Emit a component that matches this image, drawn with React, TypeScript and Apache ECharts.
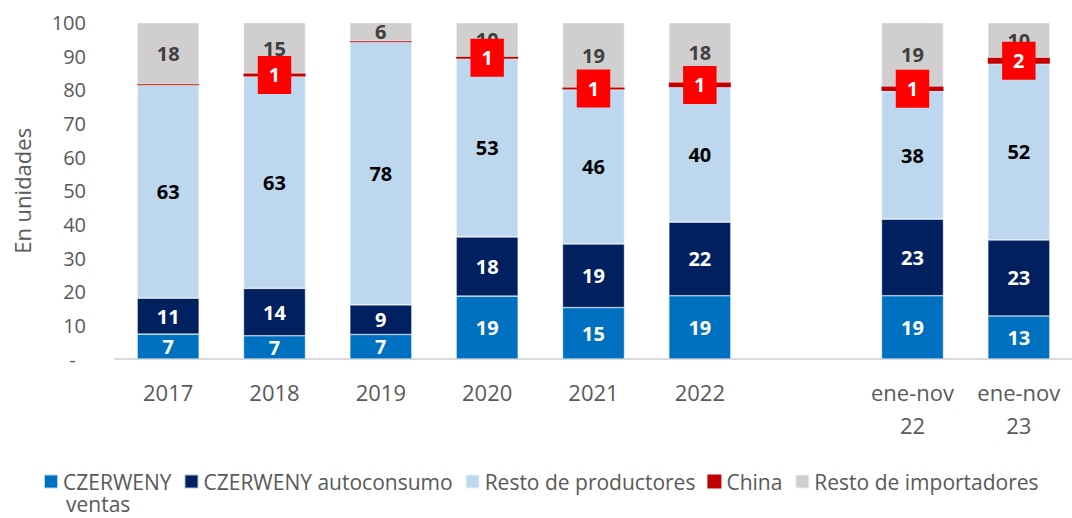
import React, { useEffect, useRef } from "react";
import * as echarts from "echarts";

const categories = ["2017", "2018", "2019", "2020", "2021", "2022", "", "ene-nov\n22", "ene-nov\n23"];
const czerwenyVentas = [7.4, 6.9, 7.3, 18.7, 15.3, 18.8, null, 18.8, 12.8];
const czerwenyAutoconsumo = [10.7, 14.1, 8.8, 17.6, 18.9, 21.9, null, 22.8, 22.6];
const restoProductores = [63.3, 63.0, 78.1, 53.0, 45.9, 40.1, null, 38.1, 52.4];
const china = [0.3, 0.9, 0.3, 0.6, 0.6, 1.4, null, 1.3, 1.8];
const restoImportadores = [18.3, 15.1, 5.5, 10.1, 19.3, 17.8, null, 19.0, 10.4];

const seriesNames = [
  "CZERWENY ventas",
  "CZERWENY autoconsumo",
  "Resto de productores",
  "China",
  "Resto de importadores",
];
const seriesColors = ["#0070C0", "#002060", "#BDD7EE", "#C00000", "#D0CECE"];
const labelColors = ["#FFFFFF", "#FFFFFF", "#000000", "#FFFFFF", "#404040"];

const FONT = "'Open Sans', sans-serif";

export default function App() {
  const ref = useRef<HTMLDivElement>(null);
  useEffect(() => {
    if (!ref.current) return;
    const chart = echarts.init(ref.current, null, { renderer: "svg" });
    const dataSets = [czerwenyVentas, czerwenyAutoconsumo, restoProductores, china, restoImportadores];
    const series = dataSets.map((d, i) => {
      const isChina = seriesNames[i] === "China";
      return {
        name: seriesNames[i],
        type: "bar",
        stack: "total",
        barWidth: 62,
        z: isChina ? 5 : 2,
        data: isChina
          ? d.map((v) => ({ value: v, label: { show: v != null && v >= 0.5 } }))
          : d,
        itemStyle: {
          color: seriesColors[i],
          borderColor: "rgba(255,255,255,0.7)",
          borderWidth: isChina ? 0 : 0.6,
        },
        label: {
          show: true,
          position: "inside",
          formatter: (p: any) => (p.value == null ? "" : String(Math.round(p.value))),
          fontFamily: FONT,
          fontSize: 20,
          fontWeight: "bold",
          color: labelColors[i],
          ...(isChina
            ? { backgroundColor: "#FF0000", padding: [9, 11, 9, 11], lineHeight: 20 }
            : {}),
        },
      };
    });
    chart.setOption({
      animation: false,
      textStyle: { fontFamily: FONT },
      grid: {
        left: 115,
        right: 0,
        top: 22.7,
        bottom: 159,
        containLabel: false,
        outerBoundsMode: "none",
      },
      legend: {
        left: 43,
        top: 471,
        padding: 0,
        icon: "rect",
        itemWidth: 14,
        itemHeight: 14,
        itemGap: 12,
        data: seriesNames,
        formatter: (n: string) => (n === "CZERWENY ventas" ? "CZERWENY" : n),
        textStyle: { fontFamily: FONT, fontSize: 21, color: "#595959" },
      },
      graphic: [
        {
          type: "text",
          x: 66,
          y: 504,
          style: {
            text: "ventas",
            font: `21px ${FONT}`,
            lineHeight: 21,
            fill: "#595959",
            verticalAlign: "middle",
          },
        },
      ],
      xAxis: {
        type: "category",
        data: categories,
        axisLine: { lineStyle: { color: "#D9D9D9", width: 2 } },
        axisTick: { show: false },
        axisLabel: {
          interval: 0,
          fontFamily: FONT,
          fontSize: 22,
          lineHeight: 33,
          color: "#595959",
          margin: 16,
        },
      },
      yAxis: {
        type: "value",
        min: 0,
        max: 100,
        interval: 10,
        name: "En unidades",
        nameLocation: "middle",
        nameGap: 82,
        nameRotate: 90,
        nameTextStyle: { fontFamily: FONT, fontSize: 22, color: "#595959" },
        axisLine: { show: false },
        axisTick: { show: false },
        splitLine: { show: false },
        axisLabel: {
          fontFamily: FONT,
          fontSize: 20,
          color: "#595959",
          margin: 29,
          formatter: (v: number) => (v === 0 ? "-  " : String(v)),
        },
      },
      series,
    });
    return () => chart.dispose();
  }, []);
  return (
    <div
      ref={ref}
      style={{ position: "fixed", left: 0, top: 0, width: 1072, height: 518, background: "#fff" }}
    />
  );
}
